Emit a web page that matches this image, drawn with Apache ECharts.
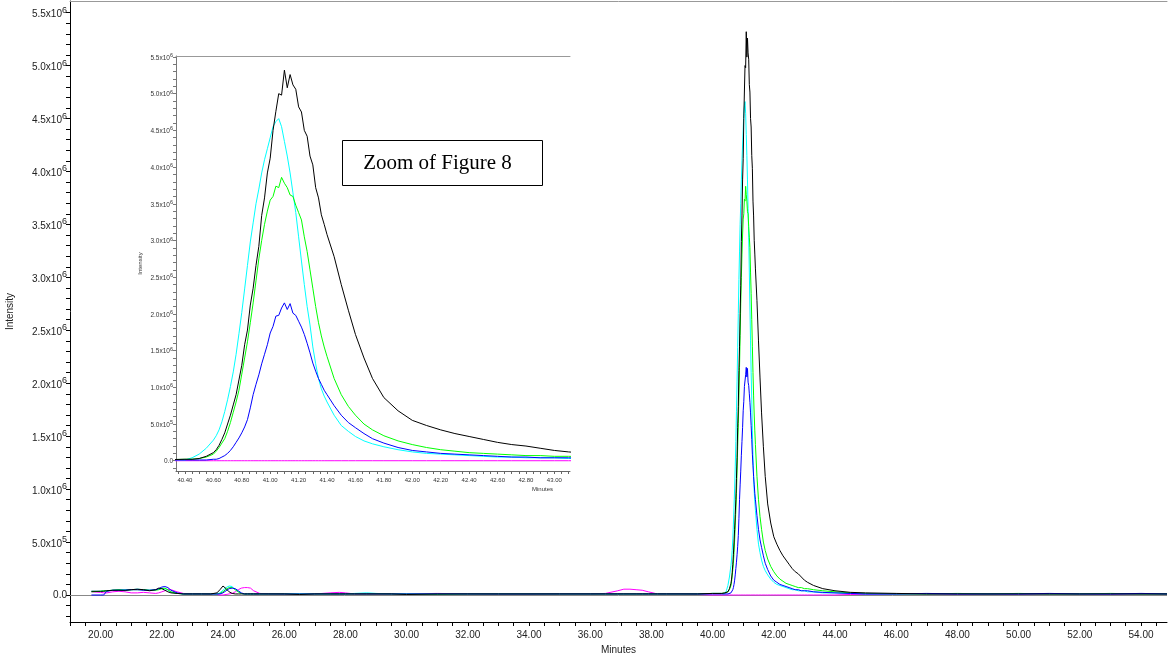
<!DOCTYPE html>
<html><head><meta charset="utf-8">
<script src="https://cdn.jsdelivr.net/npm/echarts@6.0.0/dist/echarts.min.js"></script>
<style>html,body{margin:0;padding:0;background:#fff}#c{width:1168px;height:654px}</style>
</head><body><div id="c"></div>
<script>
// retention time (minutes)
const times = [
19.70, 20.00, 20.10, 20.20, 20.40, 20.60, 20.80, 21.00, 21.20, 21.40,
21.60, 21.80, 21.90, 22.00, 22.10, 22.20, 22.30, 22.50, 22.70, 23.00,
23.30, 23.60, 23.80, 23.90, 24.00, 24.10, 24.20, 24.30, 24.40, 24.50,
24.60, 24.70, 24.80, 24.90, 25.00, 25.20, 25.50, 26.00, 26.50, 27.00,
27.50, 27.80, 28.00, 28.30, 28.70, 29.00, 29.50, 30.00, 31.00, 32.00,
33.00, 34.00, 35.00, 36.00, 36.50, 36.90, 37.10, 37.30, 37.50, 37.70,
37.90, 38.20, 38.50, 39.00, 39.50, 40.00, 40.30, 40.40, 40.45, 40.50,
40.55, 40.60, 40.62, 40.64, 40.66, 40.68, 40.70, 40.72, 40.74, 40.76,
40.78, 40.80, 40.82, 40.84, 40.86, 40.88, 40.90, 40.92, 40.94, 40.96,
40.98, 41.00, 41.02, 41.04, 41.06, 41.08, 41.10, 41.12, 41.14, 41.16,
41.18, 41.20, 41.22, 41.24, 41.26, 41.28, 41.30, 41.32, 41.34, 41.36,
41.38, 41.40, 41.45, 41.50, 41.55, 41.60, 41.66, 41.72, 41.80, 41.90,
42.00, 42.10, 42.20, 42.30, 42.40, 42.50, 42.60, 42.70, 42.80, 42.90,
43.00, 43.10, 43.30, 43.60, 44.00, 44.50, 45.00, 46.00, 47.00, 48.00,
49.00, 50.00, 51.00, 52.00, 53.00, 54.00, 54.85
];
// intensities in units of 10^6
const black = [
0.035, 0.035, 0.035, 0.04, 0.045, 0.045, 0.045, 0.05, 0.055, 0.05,
0.04, 0.05, 0.065, 0.06, 0.045, 0.03, 0.02, 0.015, 0.01, 0.01,
0.01, 0.01, 0.02, 0.05, 0.085, 0.06, 0.03, 0.015, 0.01, 0.01,
0.01, 0.01, 0.01, 0.01, 0.01, 0.01, 0.01, 0.01, 0.005, 0.01,
0.01, 0.01, 0.01, 0.01, 0.01, 0.01, 0.01, 0.005, 0.01, 0.01,
0.01, 0.01, 0.01, 0.01, 0.01, 0.01, 0.01, 0.01, 0.01, 0.01,
0.01, 0.01, 0.01, 0.01, 0.01, 0.015, 0.015, 0.02, 0.02, 0.03,
0.06, 0.11, 0.15, 0.21, 0.29, 0.38, 0.50, 0.62, 0.76, 0.90,
1.10, 1.30, 1.58, 1.78, 2.12, 2.35, 2.66, 2.92, 3.34, 3.58,
3.92, 4.12, 4.50, 4.76, 5.00, 4.98, 5.32, 5.08, 5.26, 5.12,
5.06, 4.82, 4.75, 4.50, 4.42, 4.15, 4.03, 3.72, 3.58, 3.35,
3.22, 3.08, 2.78, 2.40, 2.05, 1.72, 1.40, 1.12, 0.86, 0.68,
0.55, 0.48, 0.42, 0.37, 0.33, 0.29, 0.25, 0.22, 0.20, 0.17,
0.14, 0.12, 0.09, 0.06, 0.04, 0.025, 0.02, 0.015, 0.01, 0.01,
0.01, 0.01, 0.01, 0.01, 0.01, 0.01, 0.01
];
const cyan = [
0.035, 0.035, 0.04, 0.04, 0.045, 0.05, 0.05, 0.05, 0.055, 0.05,
0.045, 0.05, 0.055, 0.065, 0.06, 0.045, 0.025, 0.015, 0.01, 0.01,
0.01, 0.01, 0.01, 0.02, 0.045, 0.07, 0.085, 0.08, 0.05, 0.03,
0.015, 0.01, 0.01, 0.01, 0.01, 0.01, 0.01, 0.01, 0.01, 0.01,
0.01, 0.01, 0.01, 0.015, 0.02, 0.015, 0.01, 0.01, 0.01, 0.01,
0.01, 0.01, 0.01, 0.01, 0.01, 0.01, 0.01, 0.01, 0.01, 0.01,
0.01, 0.01, 0.01, 0.01, 0.01, 0.015, 0.015, 0.01, 0.04, 0.09,
0.17, 0.28, 0.34, 0.42, 0.53, 0.67, 0.83, 1.01, 1.21, 1.45,
1.73, 2.02, 2.34, 2.66, 2.98, 3.24, 3.50, 3.70, 3.92, 4.10,
4.25, 4.40, 4.55, 4.62, 4.66, 4.55, 4.35, 4.15, 3.92, 3.65,
3.38, 3.05, 2.72, 2.40, 2.10, 1.85, 1.55, 1.32, 1.12, 0.98,
0.88, 0.80, 0.62, 0.48, 0.40, 0.33, 0.27, 0.23, 0.19, 0.15,
0.12, 0.10, 0.09, 0.08, 0.07, 0.06, 0.05, 0.05, 0.04, 0.04,
0.04, 0.03, 0.03, 0.02, 0.02, 0.015, 0.01, 0.01, 0.01, 0.01,
0.01, 0.01, 0.01, 0.01, 0.01, 0.01, 0.01
];
const green = [
0.03, 0.035, 0.04, 0.04, 0.045, 0.05, 0.04, 0.05, 0.05, 0.05,
0.045, 0.045, 0.05, 0.06, 0.065, 0.05, 0.03, 0.015, 0.01, 0.01,
0.01, 0.01, 0.01, 0.015, 0.03, 0.055, 0.07, 0.07, 0.05, 0.03,
0.015, 0.01, 0.01, 0.01, 0.01, 0.01, 0.01, 0.01, 0.01, 0.01,
0.01, 0.01, 0.01, 0.01, 0.01, 0.01, 0.01, 0.01, 0.005, 0.01,
0.01, 0.01, 0.01, 0.01, 0.01, 0.01, 0.01, 0.01, 0.01, 0.01,
0.01, 0.01, 0.01, 0.01, 0.01, 0.015, 0.015, 0.02, 0.02, 0.03,
0.05, 0.09, 0.13, 0.18, 0.24, 0.30, 0.40, 0.52, 0.66, 0.80,
0.96, 1.18, 1.40, 1.62, 1.88, 2.15, 2.45, 2.75, 3.00, 3.22,
3.40, 3.55, 3.60, 3.74, 3.72, 3.86, 3.78, 3.72, 3.62, 3.60,
3.48, 3.38, 3.28, 3.05, 2.85, 2.60, 2.35, 2.10, 1.88, 1.70,
1.55, 1.42, 1.12, 0.90, 0.74, 0.62, 0.50, 0.42, 0.34, 0.27,
0.22, 0.18, 0.15, 0.13, 0.11, 0.10, 0.09, 0.08, 0.07, 0.07,
0.06, 0.06, 0.05, 0.04, 0.03, 0.02, 0.015, 0.01, 0.01, 0.015,
0.01, 0.015, 0.01, 0.01, 0.015, 0.01, 0.01
];
const blue = [
0.0, 0.0, 0.0, 0.035, 0.045, 0.045, 0.045, 0.05, 0.05, 0.045,
0.045, 0.05, 0.06, 0.075, 0.08, 0.07, 0.045, 0.02, 0.01, 0.01,
0.01, 0.01, 0.01, 0.01, 0.02, 0.04, 0.06, 0.065, 0.06, 0.04,
0.02, 0.01, 0.01, 0.01, 0.01, 0.01, 0.01, 0.01, 0.01, 0.01,
0.01, 0.01, 0.01, 0.01, 0.01, 0.01, 0.01, 0.01, 0.01, 0.01,
0.01, 0.01, 0.01, 0.01, 0.01, 0.01, 0.01, 0.01, 0.01, 0.01,
0.01, 0.01, 0.01, 0.01, 0.01, 0.01, 0.01, 0.01, 0.01, 0.01,
0.01, 0.02, 0.02, 0.03, 0.05, 0.07, 0.10, 0.14, 0.19, 0.25,
0.31, 0.38, 0.46, 0.56, 0.72, 0.90, 1.04, 1.17, 1.32, 1.45,
1.58, 1.74, 1.83, 1.97, 1.98, 2.08, 2.15, 2.06, 2.14, 2.01,
1.98, 1.90, 1.82, 1.72, 1.60, 1.47, 1.33, 1.22, 1.12, 1.04,
0.96, 0.90, 0.75, 0.62, 0.52, 0.45, 0.37, 0.30, 0.24, 0.18,
0.14, 0.12, 0.10, 0.09, 0.08, 0.07, 0.06, 0.05, 0.05, 0.04,
0.04, 0.04, 0.03, 0.025, 0.02, 0.015, 0.01, 0.01, 0.015, 0.01,
0.01, 0.01, 0.015, 0.01, 0.01, 0.015, 0.01
];
const magenta = [
0.03, 0.025, 0.02, 0.02, 0.03, 0.035, 0.03, 0.02, 0.02, 0.025,
0.02, 0.015, 0.02, 0.03, 0.04, 0.055, 0.05, 0.03, 0.015, 0.01,
0.01, 0.005, 0.005, 0.0, 0.0, 0.005, 0.01, 0.015, 0.03, 0.05,
0.065, 0.07, 0.07, 0.065, 0.04, 0.015, 0.01, 0.005, 0.005, 0.01,
0.02, 0.025, 0.02, 0.01, 0.01, 0.01, 0.01, 0.01, 0.015, 0.01,
0.005, 0.005, 0.01, 0.01, 0.015, 0.04, 0.055, 0.055, 0.05, 0.045,
0.03, 0.01, 0.01, 0.01, 0.005, 0.0, 0.0, 0.0, 0.0, 0.0,
0, 0, 0, 0, 0, 0, 0, 0, 0, 0,
0, 0, 0, 0, 0, 0, 0, 0, 0, 0,
0, 0, 0, 0, 0, 0, 0, 0, 0, 0,
0, 0, 0, 0, 0, 0, 0, 0, 0, 0,
0, 0, 0, 0, 0, 0, 0, 0, 0, 0,
0, 0, 0, 0, 0, 0, 0, 0, 0, 0,
0, 0, 0, 0, 0, 0.005, 0.005, 0.005, 0.005, 0.005,
0.005, 0.005, 0.005, 0.005, 0.005, 0.005, 0.005
];

// tick labels
const mainXLabels = [20, 22, 24, 26, 28, 30, 32, 34, 36, 38, 40, 42, 44, 46, 48, 50, 52, 54];
const mainYLabels = [0, 0.5, 1.0, 1.5, 2.0, 2.5, 3.0, 3.5, 4.0, 4.5, 5.0, 5.5];
const insetXLabels = [40.4, 40.6, 40.8, 41.0, 41.2, 41.4, 41.6, 41.8, 42.0, 42.2, 42.4, 42.6, 42.8, 43.0];
const insetYLabels = [0, 0.5, 1.0, 1.5, 2.0, 2.5, 3.0, 3.5, 4.0, 4.5, 5.0, 5.5];

function steps(a, b, s) { const o = []; const n = Math.round((b - a) / s); for (let i = 0; i <= n; i++) o.push(+(a + i * s).toFixed(4)); return o; }
const mainXTicks = steps(19, 54.5, 0.5);
const mainYTicks = steps(-0.2, 5.5, 0.1);
const insetXTicks = steps(40.35, 43.1, 0.05);
const insetYTicks = steps(-0.1, 5.5, 0.1);

function sci(v) {
  if (Math.abs(v) < 1e-9) return '{b|0.0}';
  if (v < 0.999) return '{b|' + (v * 10).toFixed(1) + 'x10}{s|5}';
  return '{b|' + v.toFixed(1) + 'x10}{s|6}';
}
const FONT = 'Liberation Sans, Arial, sans-serif';

const traces = [
  { name: 'magenta', color: '#ff00ff', data: magenta },
  { name: 'cyan', color: '#00ffff', data: cyan },
  { name: 'green', color: '#00ff00', data: green },
  { name: 'blue', color: '#0000ff', data: blue },
  { name: 'black', color: '#000000', data: black }
];

const series = [];
traces.forEach((tr, k) => {
  const pts = times.map((t, i) => [t, tr.data[i]]);
  const main = {
    type: 'line', name: tr.name, xAxisIndex: 0, yAxisIndex: 0, data: pts,
    showSymbol: false, symbol: 'none', lineStyle: { color: tr.color, width: 1 }, z: 3 + k, animation: false, silent: true
  };
  if (k === 0) {
    main.markLine = { silent: true, symbol: 'none', label: { show: false }, lineStyle: { color: '#888', width: 1, type: 'solid' }, data: [{ yAxis: 0 }], z: 1 };
  }
  series.push(main);
  series.push({
    type: 'line', name: tr.name + '_zoom', xAxisIndex: 2, yAxisIndex: 1, data: pts,
    showSymbol: false, symbol: 'none', lineStyle: { color: tr.color, width: 1 }, z: 3 + k, animation: false, silent: true
  });
});

const chart = echarts.init(document.getElementById('c'), null, { renderer: 'canvas' });
chart.setOption({
  animation: false,
  backgroundColor: '#fff',
  textStyle: { fontFamily: FONT },
  grid: [
    { left: 70, top: 1, right: 1, bottom: 32, containLabel: false, outerBoundsMode: 'none' },
    { left: 176, top: 56, right: 598, bottom: 183, containLabel: false, outerBoundsMode: 'none' }
  ],
  xAxis: [
    {
      type: 'value', gridIndex: 0, min: 19.0, max: 54.85, position: 'bottom',
      name: 'Minutes', nameLocation: 'middle', nameGap: 20,
      nameTextStyle: { fontSize: 10, color: '#222', fontFamily: FONT },
      axisLine: { show: true, onZero: false, lineStyle: { color: '#000', width: 1 } },
      axisTick: { show: true, length: 4, customValues: mainXTicks, lineStyle: { color: '#000' } },
      axisLabel: { customValues: mainXLabels, formatter: v => v.toFixed(2), fontSize: 10, color: '#222', margin: 8, fontFamily: FONT },
      splitLine: { show: false }
    },
    {
      type: 'value', gridIndex: 0, min: 19.0, max: 54.85, position: 'top',
      axisLine: { show: true, onZero: false, lineStyle: { color: '#999', width: 1 } },
      axisTick: { show: false }, axisLabel: { show: false }, splitLine: { show: false }
    },
    {
      type: 'value', gridIndex: 1, min: 40.337, max: 43.11, position: 'bottom',
      name: 'Minutes', nameLocation: 'end', nameGap: -17,
      nameTextStyle: { fontSize: 6, color: '#333', align: 'right', verticalAlign: 'top', padding: [15, 0, 0, 0], fontFamily: FONT },
      axisLine: { show: true, onZero: false, lineStyle: { color: '#666', width: 1 } },
      axisTick: { show: true, length: 3, customValues: insetXTicks, lineStyle: { color: '#666' } },
      axisLabel: { customValues: insetXLabels, formatter: v => v.toFixed(2), fontSize: 6, color: '#333', margin: 6, fontFamily: FONT },
      splitLine: { show: false }
    },
    {
      type: 'value', gridIndex: 1, min: 40.337, max: 43.11, position: 'top',
      axisLine: { show: true, onZero: false, lineStyle: { color: '#999', width: 1 } },
      axisTick: { show: false }, axisLabel: { show: false }, splitLine: { show: false }
    }
  ],
  yAxis: [
    {
      type: 'value', gridIndex: 0, min: -0.255, max: 5.61,
      name: 'Intensity', nameLocation: 'middle', nameGap: 55, nameRotate: 90,
      nameTextStyle: { fontSize: 10, color: '#222', fontFamily: FONT },
      axisLine: { show: true, onZero: false, lineStyle: { color: '#000', width: 1 } },
      axisTick: { show: true, length: 4, customValues: mainYTicks, lineStyle: { color: '#000' } },
      axisLabel: {
        customValues: mainYLabels, formatter: sci, margin: 3,
        rich: {
          b: { fontSize: 10, color: '#222', verticalAlign: 'bottom', fontFamily: FONT },
          s: { fontSize: 9, color: '#222', verticalAlign: 'top', padding: [0, 0, 5, 0], fontFamily: FONT }
        }
      },
      splitLine: { show: false }
    },
    {
      type: 'value', gridIndex: 1, min: -0.14, max: 5.513,
      name: 'Intensity', nameLocation: 'middle', nameGap: 33, nameRotate: 90,
      nameTextStyle: { fontSize: 6, color: '#333', fontFamily: FONT },
      axisLine: { show: true, onZero: false, lineStyle: { color: '#777', width: 1 } },
      axisTick: { show: true, length: 3, customValues: insetYTicks, lineStyle: { color: '#777' } },
      axisLabel: {
        customValues: insetYLabels, formatter: sci, margin: 3,
        rich: {
          b: { fontSize: 6.5, color: '#333', verticalAlign: 'bottom', fontFamily: FONT },
          s: { fontSize: 5.5, color: '#333', verticalAlign: 'top', padding: [0, 0, 3, 0], fontFamily: FONT }
        }
      },
      splitLine: { show: false }
    }
  ],
  graphic: [
    {
      type: 'group', left: 342, top: 140, z: 100,
      children: [
        { type: 'rect', shape: { x: 0, y: 0, width: 200, height: 45 }, style: { fill: '#fff', stroke: '#000', lineWidth: 1 } },
        { type: 'text', x: 95, y: 23, style: { text: 'Zoom of Figure 8', font: '21px "Liberation Serif", "Times New Roman", serif', fill: '#000', align: 'center', verticalAlign: 'middle' } }
      ]
    }
  ],
  series: series
});
</script>
</body></html>
